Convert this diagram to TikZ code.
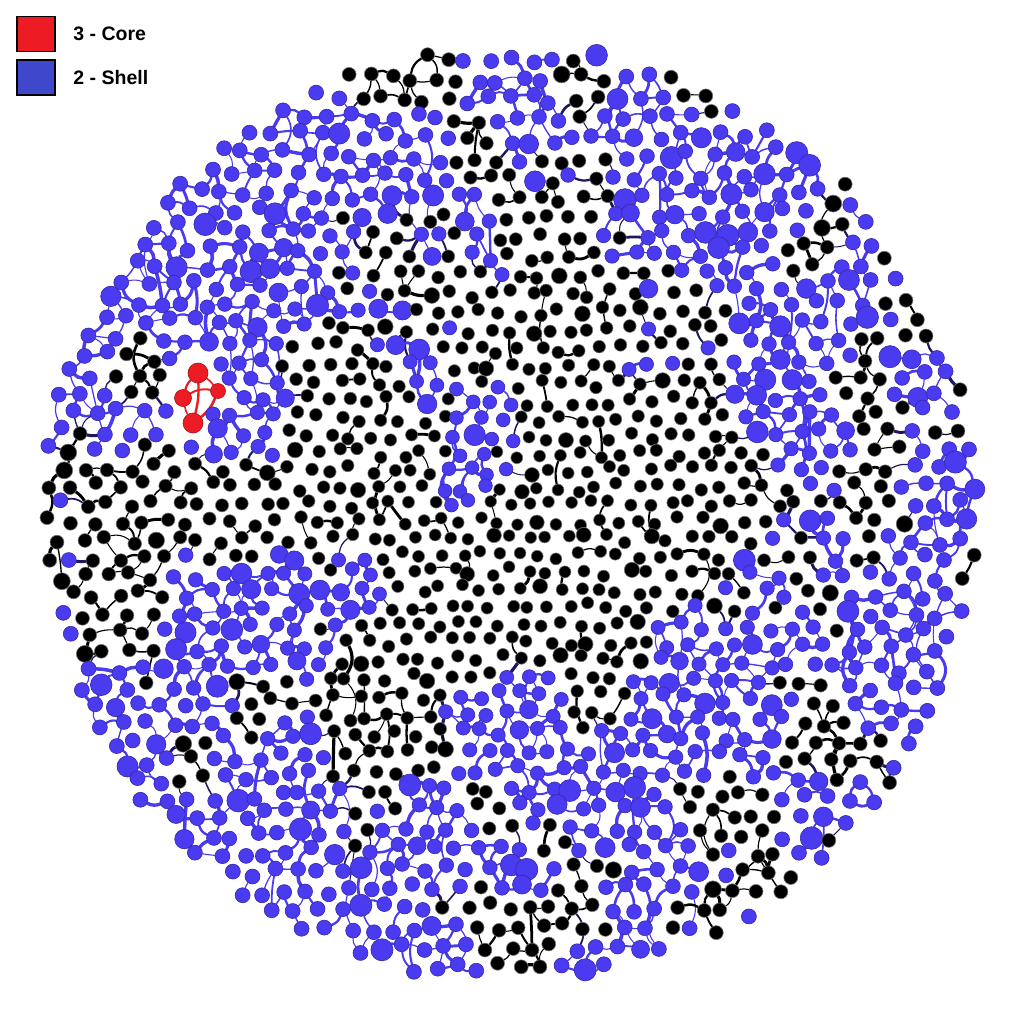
\documentclass[tikz,border=0pt]{standalone}
\usepackage{fontspec}
\setsansfont{Liberation Sans}
\usepackage{tikz}
\usetikzlibrary{
    positioning,
    backgrounds
}
\definecolor{corered}{RGB}{237,28,36}
\definecolor{shellblue}{RGB}{74,58,240}
\definecolor{legendblue}{RGB}{63,72,204}
\tikzstyle{corenode} = [
    circle,
    fill=corered,
    draw=corered!70!black,
    line width=0.6pt,
    inner sep=0pt
]
\tikzstyle{shellnode} = [
    circle,
    fill=shellblue,
    draw=shellblue!70!black,
    line width=0.6pt,
    inner sep=0pt
]
\tikzstyle{outernode} = [
    circle,
    fill=black,
    draw=black!55,
    line width=0.6pt,
    inner sep=0pt
]
\tikzstyle{legbox} = [
    rectangle,
    draw=black,
    line width=1.8pt,
    minimum width=38pt,
    minimum height=35pt,
    inner sep=0pt
]
\tikzstyle{legtext} = [
    anchor=west,
    font=\sffamily\bfseries\fontsize{19.5}{22}\selectfont
]
\tikzstyle{corelink} = [draw=corered, line cap=round]
\tikzstyle{shelllink} = [draw=shellblue, line cap=round]
\tikzstyle{outerlink} = [draw=black, line cap=round]
\tikzstyle{mixlink} = [draw=shellblue!40!black, line cap=round]
% gaussian blob, coordinates in units of 100px
\pgfmathdeclarefunction{blob}{5}{\pgfmathparse{exp(max(-10,-((#1-#3)^2+(#2-#4)^2)/(#5*#5)))}}
% link two lattice nodes at random, if the second one exists
\newcommand\linkto[5]{%
  \ifcsname pgf@sh@ns@n#3-#4\endcsname
    \edef\ka{\csname kc#1-#2\endcsname}%
    \edef\kb{\csname kc#3-#4\endcsname}%
    \edef\pa{\csname kp#1-#2\endcsname}%
    \edef\pb{\csname kp#3-#4\endcsname}%
    \pgfmathsetmacro\pl{#5*(\pa+\pb)/2*(\ka==\kb ? 1 : 0.3)}%
    \pgfmathsetmacro\bnd{(rnd-0.5)*(50+40*(1-#5))}%
    \pgfmathparse{rnd<\pl ? 1 : 0}%
    \ifdim\pgfmathresult pt>0.5pt
      \ifnum\ka\kb=11
        \pgfmathsetmacro\lw{1+2.6*rnd^1.5}%
        \draw[shelllink, line width=\lw] (n#1-#2) to[bend left=\bnd] (n#3-#4);%
      \else\ifnum\ka\kb=0
        \pgfmathsetmacro\lw{1+2.2*rnd^2}%
        \draw[outerlink, line width=\lw] (n#1-#2) to[bend left=\bnd] (n#3-#4);%
      \else
        \pgfmathsetmacro\lw{1+2.2*rnd^2}%
        \draw[mixlink, line width=\lw] (n#1-#2) to[bend left=\bnd] (n#3-#4);%
      \fi\fi
    \fi
  \fi}

\begin{document}
\begin{tikzpicture}[x=1pt, y=-1pt]
    \useasboundingbox (0,0) rectangle (1024,1024);
    \pgfmathsetseed{23}

    % Legend
    \node[legbox, fill=corered] (keycore) at (36,34) {};
    \node[legbox, fill=legendblue, below=7pt of keycore] (keyshell) {};
    \node[legtext, right=14pt of keycore] (txtcore) {3 - Core};
    \node[legtext, right=14pt of keyshell] (txtshell) {2 - Shell};

    % 3-core
    \node[corenode, minimum size=20] (c1) at (198,373) {};
    \node[corenode, minimum size=17] (c2) at (183,398) {};
    \node[corenode, minimum size=15] (c3) at (218,391) {};
    \node[corenode, minimum size=20] (c4) at (193,423) {};

    % Patches of 56px: 0 = outer (black), 1 = shell (blue)
    \foreach \i in {0,...,18}{
      \foreach \j in {0,...,18}{
        \pgfmathsetmacro\ux{0.56*\i+0.28}
        \pgfmathsetmacro\uy{0.56*\j+0.28}
        \pgfmathsetmacro\pk{0.3+blob(\ux,\uy,3.3,4.8,1.1)+blob(\ux,\uy,5.3,3.6,1.0)
          +blob(\ux,\uy,5.3,5.6,1.2)+blob(\ux,\uy,6.5,5.0,0.9)+blob(\ux,\uy,4.2,6.3,0.9)
          +0.8*blob(\ux,\uy,1.0,5.7,0.8)+0.7*blob(\ux,\uy,7.6,8.5,0.6)+0.6*blob(\ux,\uy,8.7,4.0,0.5)
          +0.6*blob(\ux,\uy,3.6,1.0,0.6)-1.5*blob(\ux,\uy,4.8,4.65,0.45)-1.2*blob(\ux,\uy,3.3,6.0,0.4)
          -0.4*blob(\ux,\uy,2.0,3.0,1.2)-0.4*blob(\ux,\uy,3.8,9.0,1.0)-0.5*blob(\ux,\uy,9.2,6.5,0.8)
          -0.3*blob(\ux,\uy,5.2,1.0,0.7)}
        \pgfmathtruncatemacro\kc{rnd<\pk ? 0 : 1}
        \expandafter\xdef\csname cell\i-\j\endcsname{\kc}
      }
    }

    % Nodes on a jittered lattice, denser near the centre
    \foreach \row in {0,...,51}{
      \foreach \col in {0,...,45}{
        \pgfmathsetmacro\lx{21.5*\col+10.75*mod(\row,2)-484}
        \pgfmathsetmacro\ly{18.62*\row-475}
        \pgfmathsetmacro\rr{veclen(\lx,\ly)}
        \pgfmathsetmacro\wf{0.88+0.12*\rr/470}
        \pgfmathsetmacro\px{510+\wf*\lx+9*(rnd-0.5)}
        \pgfmathsetmacro\py{513+\wf*\ly+9*(rnd-0.5)}
        \pgfmathsetmacro\dc{min(veclen(\px-198,\py-373)-10,veclen(\px-183,\py-398)-8.5,veclen(\px-218,\py-391)-7.5,veclen(\px-193,\py-423)-10)}
        \pgfmathparse{and(\rr<468,\dc>9) ? 1 : 0}
        \ifdim\pgfmathresult pt>0.5pt
          \pgfmathtruncatemacro\ci{(\px+44*(rnd-0.5))/56}
          \pgfmathtruncatemacro\cj{(\py+44*(rnd-0.5))/56}
          \edef\kc{\csname cell\ci-\cj\endcsname}
          \expandafter\xdef\csname kc\row-\col\endcsname{\kc}
          \ifnum\kc=0
            \pgfmathsetmacro\sz{11.5+2.5*\rr/470+(rnd<0.06 ? 3 : 0)}
            \node[outernode, minimum size=\sz] (n\row-\col) at (\px,\py) {};
            \pgfmathsetmacro\pe{0.04+0.4*(\rr/470)^3}
          \else
            \pgfmathsetmacro\sz{13.5+1.5*\rr/470+(rnd<0.15 ? 3+5*rnd : 0)}
            \node[shellnode, minimum size=\sz] (n\row-\col) at (\px,\py) {};
            \pgfmathsetmacro\pe{0.45}
          \fi
          \expandafter\xdef\csname kp\row-\col\endcsname{\pe}
        \fi
      }
    }

    % Links behind the nodes
    \begin{pgfonlayer}{background}
      \foreach \row in {0,...,51}{
        \foreach \col in {0,...,45}{
          \ifcsname pgf@sh@ns@n\row-\col\endcsname
            \pgfmathtruncatemacro\rn{\row+1}
            \pgfmathtruncatemacro\rnn{\row+2}
            \pgfmathtruncatemacro\cnext{\col+1}
            \pgfmathtruncatemacro\cdl{\col-1+mod(\row,2)}
            \pgfmathtruncatemacro\cdr{\col+mod(\row,2)}
            \linkto{\row}{\col}{\row}{\cnext}{1}
            \linkto{\row}{\col}{\rn}{\cdl}{1}
            \linkto{\row}{\col}{\rn}{\cdr}{1}
            \linkto{\row}{\col}{\rnn}{\col}{0.3}
          \fi
        }
      }
      \draw[corelink, line width=2.2pt] (c1) to[bend right=15] (c2);
      \draw[corelink, line width=1.6pt] (c1) to[bend left=10] (c3);
      \draw[corelink, line width=2.4pt] (c1) to[bend left=8] (c4);
      \draw[corelink, line width=2pt] (c2) to[bend left=20] (c3);
      \draw[corelink, line width=1.6pt] (c2) to[bend right=10] (c4);
      \draw[corelink, line width=2.6pt] (c3) to[bend left=15] (c4);
    \end{pgfonlayer}
\end{tikzpicture}
\end{document}
